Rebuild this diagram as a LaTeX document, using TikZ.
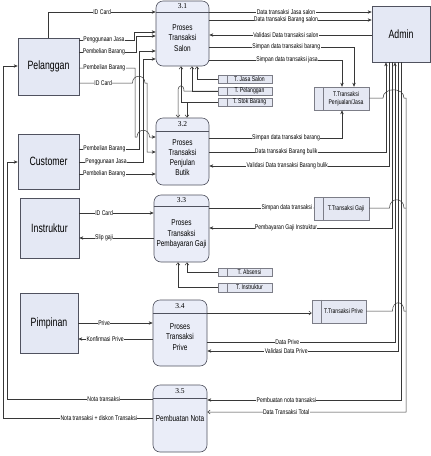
\documentclass[tikz,border=0pt]{standalone}
\usepackage{fontspec}
\usepackage{graphicx}
\setmainfont{Liberation Sans}
\newfontfamily\numfont{Liberation Serif}
\usetikzlibrary{arrows.meta}
\newcommand{\nw}[2][0.75]{\scalebox{#1}[1]{#2}}
\definecolor{entfill}{RGB}{228,232,244}
\definecolor{procfill}{RGB}{234,237,248}
\definecolor{storefill}{RGB}{229,232,243}
\definecolor{edgecol}{RGB}{80,82,95}
\definecolor{linecol}{RGB}{55,55,55}
\tikzset{
  ent/.style={draw=edgecol, fill=entfill, line width=0.6pt, inner sep=0pt, font=\fontsize{12}{12}\selectfont},
  proc/.style={draw=edgecol, fill=procfill, rounded corners=7pt, line width=0.6pt, inner sep=0pt},
  store/.style={draw=edgecol!75, fill=storefill, line width=0.5pt, inner sep=0pt},
  divider/.style={draw=edgecol!75, line width=0.5pt},
  hdr/.style={draw=edgecol, line width=0.5pt},
  lbl/.style={fill=white, inner sep=0.4pt, font=\fontsize{6.8}{7}\selectfont},
  stxt/.style={inner sep=0pt, font=\fontsize{6.8}{8.5}\selectfont, align=center},
  ptxt/.style={inner sep=0pt, font=\fontsize{8.5}{10.5}\selectfont, align=center},
  pnum/.style={inner sep=0pt, font=\numfont\fontsize{7.5}{8}\selectfont},
  flow/.style={draw=linecol, line width=0.5pt},
  arr/.style={flow, -{Stealth[length=4pt,width=3.4pt]}},
  oarr/.style={flow, -{Straight Barb[length=2.5pt,width=4pt]}},
}
\begin{document}
\begin{tikzpicture}[x=1pt,y=-1pt]
\fill[white] (0,0) rectangle (431,456);
\useasboundingbox (0,0) rectangle (431,456);

% external entities
\node[ent, minimum width=61pt, minimum height=57pt] (pel) at (48.5,66.5) {\nw[0.73]{Pelanggan}};
\node[ent, minimum width=61pt, minimum height=55pt] (cus) at (48.5,161.5) {\nw[0.73]{Customer}};
\node[ent, minimum width=59pt, minimum height=60pt] (ins) at (49.5,228) {\nw[0.73]{Instruktur}};
\node[ent, minimum width=58pt, minimum height=60pt] (pim) at (49,323) {\nw[0.73]{Pimpinan}};
\node[ent, minimum width=58pt, minimum height=56pt] (adm) at (401,34) {\nw[0.73]{Admin}};

% processes
\node[proc, minimum width=53pt, minimum height=65pt] (p31) at (182.5,33.5) {};
\draw[hdr] (p31.west |- 0,12) -- (p31.east |- 0,12);
\node[pnum] (n31) at (182.5,6.5) {3.1};
\node[ptxt] (t31) at (182.5,38) {\nw[0.76]{Proses}\\\nw[0.76]{Transaksi}\\\nw[0.76]{Salon}};

\node[proc, minimum width=53pt, minimum height=67pt] (p32) at (182.5,151.5) {};
\draw[hdr] (p32.west |- 0,131) -- (p32.east |- 0,131);
\node[pnum] (n32) at (182.5,124.5) {3.2};
\node[ptxt, font=\fontsize{8.5}{10}\selectfont] (t32) at (182.5,157.5) {\nw[0.76]{Proses}\\\nw[0.76]{Transaksi}\\\nw[0.76]{Penjulan}\\\nw[0.76]{Butik}};

\node[proc, minimum width=55pt, minimum height=67pt] (p33) at (181.5,228.5) {};
\draw[hdr] (p33.west |- 0,206) -- (p33.east |- 0,206);
\node[pnum] (n33) at (181.5,200) {3.3};
\node[ptxt] (t33) at (181.5,234) {\nw[0.76]{Proses}\\\nw[0.76]{Transaksi}\\\nw[0.76]{Pembayaran Gaji}};

\node[proc, minimum width=54pt, minimum height=66pt] (p34) at (180,333) {};
\draw[hdr] (p34.west |- 0,313) -- (p34.east |- 0,313);
\node[pnum] (n34) at (180,306.5) {3.4};
\node[ptxt] (t34) at (180,337) {\nw[0.76]{Proses}\\\nw[0.76]{Transaksi}\\\nw[0.76]{Prive}};

\node[proc, minimum width=54pt, minimum height=67pt] (p35) at (180,418.5) {};
\draw[hdr] (p35.west |- 0,398) -- (p35.east |- 0,398);
\node[pnum] (n35) at (180,391.5) {3.5};
\node[ptxt] (t35) at (180,418) {\nw[0.76]{Pembuatan Nota}};

% data stores
\node[store, minimum width=54pt, minimum height=8pt] (tjs) at (245,79) {};
\draw[divider] ([xshift=9pt]tjs.north west) -- ([xshift=9pt]tjs.south west);
\node[stxt] (ttjs) at (249.5,79) {\nw{T. Jasa Salon}};
\node[store, minimum width=54pt, minimum height=8pt] (tpl) at (245,91) {};
\draw[divider] ([xshift=9pt]tpl.north west) -- ([xshift=9pt]tpl.south west);
\node[stxt] (ttpl) at (249.5,91) {\nw{T. Pelanggan}};
\node[store, minimum width=54pt, minimum height=8pt] (tsb) at (245,102) {};
\draw[divider] ([xshift=9pt]tsb.north west) -- ([xshift=9pt]tsb.south west);
\node[stxt] (ttsb) at (249.5,102) {\nw{T. Stok Barang}};
\node[store, minimum width=54pt, minimum height=8pt] (tab) at (245,272) {};
\draw[divider] ([xshift=9pt]tab.north west) -- ([xshift=9pt]tab.south west);
\node[stxt] (ttab) at (249.5,272) {\nw{T. Absensi}};
\node[store, minimum width=54pt, minimum height=9pt] (tin) at (245,287.5) {};
\draw[divider] ([xshift=9pt]tin.north west) -- ([xshift=9pt]tin.south west);
\node[stxt] (ttin) at (249.5,287.5) {\nw{T. Instruktur}};

\node[store, minimum width=55pt, minimum height=23pt] (tpj) at (341.5,98.5) {};
\draw[divider] ([xshift=9pt]tpj.north west) -- ([xshift=9pt]tpj.south west);
\node[stxt] (ttpj) at (346,98.5) {\nw{T.Transaksi}\\\nw{Penjualan/Jasa}};
\node[store, minimum width=55pt, minimum height=23pt] (tg) at (341.5,208.5) {};
\draw[divider] ([xshift=9pt]tg.north west) -- ([xshift=9pt]tg.south west);
\node[stxt] (ttg) at (346,208.5) {\nw{T.Transaksi Gaji}};
\node[store, minimum width=54pt, minimum height=23pt] (tp) at (339,311.5) {};
\draw[divider] ([xshift=9pt]tp.north west) -- ([xshift=9pt]tp.south west);
\node[stxt] (ttp) at (343.5,311.5) {\nw{T.Transaksi Prive}};

% Pelanggan flows
\draw[arr] (pel.north) |- node[lbl,pos=0.75]{\nw{ID Card}} (p31.west |- 0,12);
\draw[arr] (pel.east |- 0,40) -- node[lbl,pos=0.45]{\nw{Penggunaan Jasa}} (134,40) |- (p31.west |- 0,32);
\draw[arr] (pel.east |- 0,52) -- node[lbl,pos=0.43]{\nw{Pembelian Barang}} (136.5,52) |- (p31.west |- 0,36);
\draw[arr] (pel.east |- 0,68) -- node[lbl,pos=0.45]{\nw{Pembelian Barang}} (135,68) -- (135,137) -- (137,137)
   .. controls (137,128) and (149.5,128) .. (149.5,137) -- (p32.west |- 0,137);
\draw[arr] (pel.east |- 0,83) -- node[lbl,pos=0.45]{\nw{ID Card}} (132.5,83)
   .. controls (132.5,74) and (145,74) .. (145,83) -- (147,83) -- (147,152) -- (p32.west |- 0,152);

% Customer flows
\draw[arr] (cus.east |- 0,149) -- node[lbl,pos=0.42]{\nw{Pembelian Barang}} (139,149) |- (p31.west |- 0,51);
\draw[arr] (cus.east |- 0,162) -- node[lbl,pos=0.42]{\nw{Penggunaan Jasa}} (143,162) |- (p31.west |- 0,59);
\draw[arr] (cus.east |- 0,174) -- node[lbl,pos=0.325]{\nw{Pembelian Barang}} (p32.west |- 0,174);

% Instruktur flows
\draw[arr] (ins.east |- 0,213) -- node[lbl,pos=0.333]{\nw{ID Card}} (p33.west |- 0,213);
\draw[arr] (p33.west |- 0,238) -- node[lbl,pos=0.667]{\nw{Slip gaji}} (ins.east |- 0,238);

% Pimpinan flows
\draw[arr] (pim.east |- 0,323) -- node[lbl,pos=0.347]{\nw{Prive}} (p34.west |- 0,323);
\draw[arr] (p34.west |- 0,339) -- node[lbl,pos=0.64]{\nw{Konfirmasi Prive}} (pim.east |- 0,339);

% Nota flows back to customers
\draw[arr] (p35.west |- 0,399) -- node[lbl,pos=0.336]{\nw{Nota transaksi}} (7,399) -- (7,162) -- (cus.west |- 0,162);
\draw[arr] (p35.west |- 0,418) -- node[lbl,pos=0.36]{\nw{Nota transaksi + diskon Transaksi}} (3,418) -- (3,66) -- (pel.west |- 0,66);

% 3.1 <-> Admin / store
\draw[arr] (p31.east |- 0,12) -- node[lbl,pos=0.472]{\nw{Data transaksi Jasa salon}} (adm.west |- 0,12);
\draw[arr] (p31.east |- 0,20) -- node[lbl,pos=0.472]{\nw{Data transaksi Barang salon}} (adm.west |- 0,20);
\draw[arr] (adm.west |- 0,35) -- node[lbl,pos=0.528]{\nw{Validasi Data transaksi salon}} (p31.east |- 0,35);
\draw[arr] (p31.east |- 0,47) -| node[lbl,pos=0.266]{\nw{Simpan data transaksi barang}} (tpj.north -| 354,0);
\draw[arr] (p31.east |- 0,60) -| node[lbl,pos=0.293]{\nw{Simpan data transaksi jasa}} (tpj.north -| 342,0);

% small stores <-> 3.1 / 3.2
\draw[oarr] (tjs.west) -| (p31.south -| 197,0);
\draw[oarr] (tpl.west) -| (p31.south -| 192,0);
\draw[oarr] (tpl.west) -- (184,91) .. controls (184,84) and (178,84) .. (178,91) -- (p32.north -| 178,0);
\draw[oarr] (tsb.west) -| (p31.south -| 181,0);
\draw[oarr] (tsb.west) -| (p32.north -| 187,0);

% 3.2 flows
\draw[arr] (p32.east |- 0,138) -| node[lbl,pos=0.289]{\nw{Simpan data transaksi barang}} (tpj.south -| 342,0);
\draw[arr] (p32.east |- 0,152) -| node[lbl,pos=0.2175]{\nw{Data transaksi Barang bulik}} (adm.south -| 386,0);
\draw[arr] (adm.south -| 389,0) |- node[lbl,pos=0.783]{\nw{Validasi Data transaksi Barang bulik}} (p32.east |- 0,166);

% 3.3 flows
\draw[arr] (p33.east |- 0,208) -- node[lbl,pos=0.743]{\nw{Simpan data transaksi}} (tg.west |- 0,208);
\draw[arr] (adm.south -| 392,0) |- node[lbl,pos=0.79]{\nw{Pembayaran Gaji Instruktur}} (p33.east |- 0,228);
\draw[oarr] (tab.west) -| (p33.south -| 187,0);
\draw[oarr] (tin.west) -| (p33.south -| 178,0);

% 3.4 flows
\draw[oarr] (p34.east |- 0,313) -- (tp.west |- 0,313);
\draw[arr] (p34.east |- 0,342) -| node[lbl,pos=0.213]{\nw{Data Prive}} (adm.south -| 395,0);
\draw[arr] (adm.south -| 398,0) |- node[lbl,pos=0.793]{\nw{Validasi Data Prive}} (p34.east |- 0,351);

% 3.5 flows
\draw[arr] (adm.south -| 401,0) |- node[lbl,pos=0.796]{\nw{Pembuatan nota transaksi}} (p35.east |- 0,400);
\draw[oarr] (tpj.east |- 0,98) -- (383,98) .. controls (383,87) and (404,87) .. (404,98) -- (406,98) -- (406,412)
   -- node[lbl,pos=0.603]{\nw{Data Transaksi Total}} (p35.east |- 0,412);
\draw[flow] (tg.east |- 0,208) -- (389.5,208) .. controls (389.5,197) and (404,197) .. (404,208) -- (406,208);
\draw[flow] (tp.east |- 0,311) -- (392.5,311) .. controls (392.5,300) and (404,300) .. (404,311) -- (406,311);
\end{tikzpicture}
\end{document}
